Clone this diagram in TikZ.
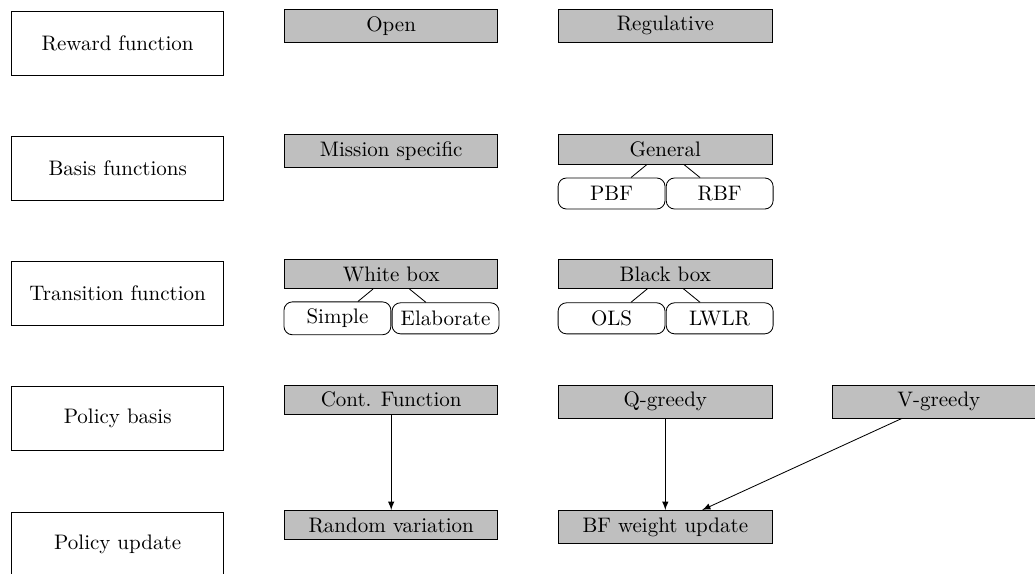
\documentclass[tikz,border=0pt]{standalone}
\tikzset{
  category/.style={draw, minimum width=3.55cm, minimum height=1.07cm},
  option/.style={draw, fill=lightgray, anchor=north, minimum width=3.57cm},
  variant/.style={draw, rounded corners, minimum width=1.79cm, minimum height=0.52cm},
}
\begin{document}
\begin{tikzpicture}
    \useasboundingbox (0,0) rectangle (17.33,9.61);

    % Categories
    \node[category] (reward) at (1.97,8.89) {Reward function};
    \node[category] (basis) at (1.97,6.79) {Basis functions};
    \node[category] (trans) at (1.97,4.70) {Transition function};
    \node[category] (policy) at (1.97,2.60) {Policy basis};
    \node[category] (update) at (1.97,0.50) {Policy update};

    % Reward function
    \node[option] (open) at (6.55,9.46) {Open};
    \node[option] (regul) at (11.14,9.46) {Regulative};

    % Basis functions
    \node[option] (mission) at (6.55,7.36) {Mission specific};
    \node[option] (general) at (11.14,7.36) {General};
    \node[variant] (pbf) at (10.24,6.37) {PBF};
    \node[variant] (rbf) at (12.05,6.37) {RBF};
    \draw (general) -- (pbf);
    \draw (general) -- (rbf);

    % Transition function
    \node[option] (white) at (6.55,5.27) {White box};
    \node[variant] (simple) at (5.65,4.28) {Simple};
    \node[variant] (elab) at (7.46,4.28) {Elaborate};
    \draw (white) -- (simple);
    \draw (white) -- (elab);

    \node[option] (black) at (11.14,5.27) {Black box};
    \node[variant] (ols) at (10.24,4.28) {OLS};
    \node[variant] (lwlr) at (12.05,4.28) {LWLR};
    \draw (black) -- (ols);
    \draw (black) -- (lwlr);

    % Policy basis
    \node[option] (cont) at (6.55,3.17) {Cont. Function};
    \node[option] (qgreedy) at (11.14,3.17) {Q-greedy};
    \node[option] (vgreedy) at (15.72,3.17) {V-greedy};

    % Policy update
    \node[option] (random) at (6.55,1.07) {Random variation};
    \node[option] (bfweight) at (11.14,1.07) {BF weight update};

    \draw[-latex] (cont) -- (random);
    \draw[-latex] (qgreedy) -- (bfweight);
    \draw[-latex] (vgreedy) -- (bfweight);

\end{tikzpicture}
\end{document}
